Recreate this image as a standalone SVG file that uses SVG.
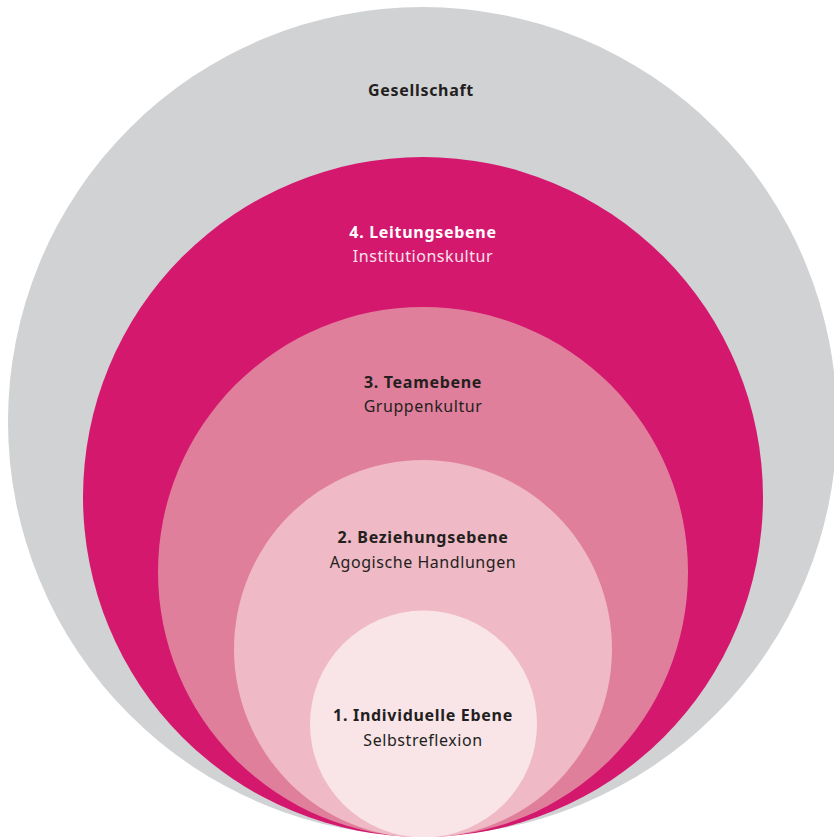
<svg xmlns="http://www.w3.org/2000/svg" width="834" height="837" viewBox="0 0 834 837">
<style>
text{font-family:"Noto Sans","Open Sans",sans-serif;font-size:16px;text-anchor:middle;fill:#231f20;letter-spacing:0.55px}
.b{font-weight:bold;letter-spacing:0.7px}
.w{fill:#ffffff}
.w2{fill:#fbe3ec}
</style>
<rect width="834" height="837" fill="#ffffff"/>
<g id="gesellschaft">
<circle cx="422.5" cy="421.5" r="414.5" fill="#d1d2d4"/>
<text class="b" x="421" y="96">Gesellschaft</text>
</g>
<g id="leitungsebene">
<circle cx="423" cy="497" r="340" fill="#d4186e"/>
<text class="b w" x="423" y="238">4. Leitungsebene</text>
<text class="w2" x="423" y="262">Institutionskultur</text>
</g>
<g id="teamebene">
<circle cx="423" cy="572" r="265" fill="#e07f9b"/>
<text class="b" x="423" y="388">3. Teamebene</text>
<text x="423" y="412">Gruppenkultur</text>
</g>
<g id="beziehungsebene">
<circle cx="423" cy="649" r="189" fill="#efb9c6"/>
<text class="b" x="423" y="543">2. Beziehungsebene</text>
<text x="423" y="568">Agogische Handlungen</text>
</g>
<g id="individuelle">
<circle cx="423.5" cy="724" r="113.5" fill="#f9e4e8"/>
<text class="b" x="423" y="721">1. Individuelle Ebene</text>
<text x="423" y="746">Selbstreflexion</text>
</g>
<g id="connectors"></g>
</svg>
